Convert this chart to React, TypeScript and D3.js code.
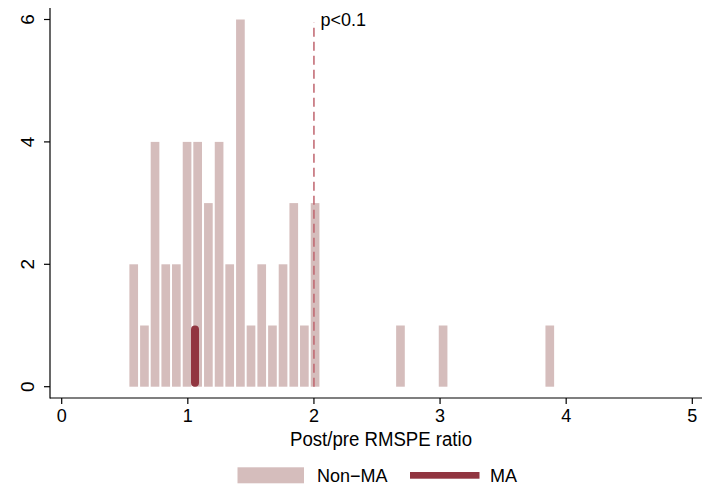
import React from "react";
import * as d3 from "d3";

// Histogram of post/pre RMSPE ratios (bin centers and counts)
const binCenters = [
  0.571, 0.656, 0.740, 0.825, 0.909, 0.994, 1.078, 1.163, 1.248, 1.332,
  1.417, 1.501, 1.586, 1.671, 1.755, 1.840, 1.924, 2.009, 2.686, 3.024, 3.870,
];
const counts = [2, 1, 4, 2, 2, 4, 4, 3, 4, 2, 6, 1, 2, 1, 2, 3, 1, 3, 1, 1, 1];
const binWidth = 0.0846;

const maValue = 1.057;
const maCount = 1;
const threshold = 2;
const thresholdLabel = "p<0.1";

const xTicks = [0, 1, 2, 3, 4, 5];
const yTicks = [0, 2, 4, 6];
const xTitle = "Post/pre RMSPE ratio";
const legendLabels = ["Non\u2212MA", "MA"];

const W = 704;
const H = 485;
const FONT = "'Liberation Sans', Arial, Helvetica, sans-serif";
const NON_MA = "#d5bdbc";
const MA = "#913540";
const DASH = "#c0646e";

export default function App() {
  const x = d3.scaleLinear().domain([0, 5]).range([61.7, 692.3]);
  const y = d3.scaleLinear().domain([0, 6]).range([386.7, 19.5]);
  const axisY = 398;
  const axisX = 50;
  const binPx = x(binWidth) - x(0);
  const barW = binPx - 2;
  const maW = 8;

  return (
    <svg
      width={W}
      height={H}
      style={{ position: "absolute", left: 0, top: 0, background: "#fff" }}
      fontFamily={FONT}
    >
      <rect x={0} y={0} width={W} height={H} fill="#fff" />
      {/* bars */}
      {binCenters.map((c, i) => (
        <rect
          key={i}
          x={x(c) - barW / 2}
          y={y(counts[i])}
          width={barW}
          height={y(0) - y(counts[i])}
          fill={NON_MA}
        />
      ))}
      {/* MA spike */}
      <line
        x1={x(maValue)}
        x2={x(maValue)}
        y1={y(0) - maW / 2}
        y2={y(maCount) + maW / 2}
        stroke={MA}
        strokeWidth={maW}
        strokeLinecap="round"
      />
      {/* threshold line */}
      <line
        x1={x(threshold)}
        x2={x(threshold)}
        y1={y(0)}
        y2={22.5}
        stroke={DASH}
        strokeWidth={1.5}
        strokeDasharray="9,5"
      />
      <text x={x(threshold) + 6.5} y={26} fontSize={18} fill="#000">
        {thresholdLabel}
      </text>
      {/* axes */}
      <line x1={axisX} x2={axisX} y1={8} y2={axisY + 0.5} stroke="#000" strokeWidth={1.2} />
      <line x1={axisX} x2={702} y1={axisY} y2={axisY} stroke="#000" strokeWidth={1.2} />
      {yTicks.map((t) => (
        <g key={"y" + t}>
          <line x1={axisX - 6} x2={axisX} y1={y(t)} y2={y(t)} stroke="#000" strokeWidth={1.2} />
          <text
            transform={`translate(${34.3},${y(t)}) rotate(-90)`}
            textAnchor="middle"
            fontSize={19}
            fill="#000"
          >
            {t}
          </text>
        </g>
      ))}
      {xTicks.map((t) => (
        <g key={"x" + t}>
          <line x1={x(t)} x2={x(t)} y1={axisY} y2={axisY + 6} stroke="#000" strokeWidth={1.2} />
          <text x={x(t)} y={422} textAnchor="middle" fontSize={18} fill="#000">
            {t}
          </text>
        </g>
      ))}
      <text
        x={381}
        y={446}
        textAnchor="middle"
        fontSize={19.5}
        textLength={182}
        lengthAdjust="spacingAndGlyphs"
        fill="#000"
      >
        {xTitle}
      </text>
      {/* legend */}
      <rect x={237.5} y={467.3} width={66.5} height={16} fill={NON_MA} />
      <text x={317} y={482} fontSize={18} fill="#000">
        {legendLabels[0]}
      </text>
      <rect x={410} y={472} width={69.5} height={6.7} fill={MA} />
      <text x={490} y={482} fontSize={18} fill="#000">
        {legendLabels[1]}
      </text>
    </svg>
  );
}
